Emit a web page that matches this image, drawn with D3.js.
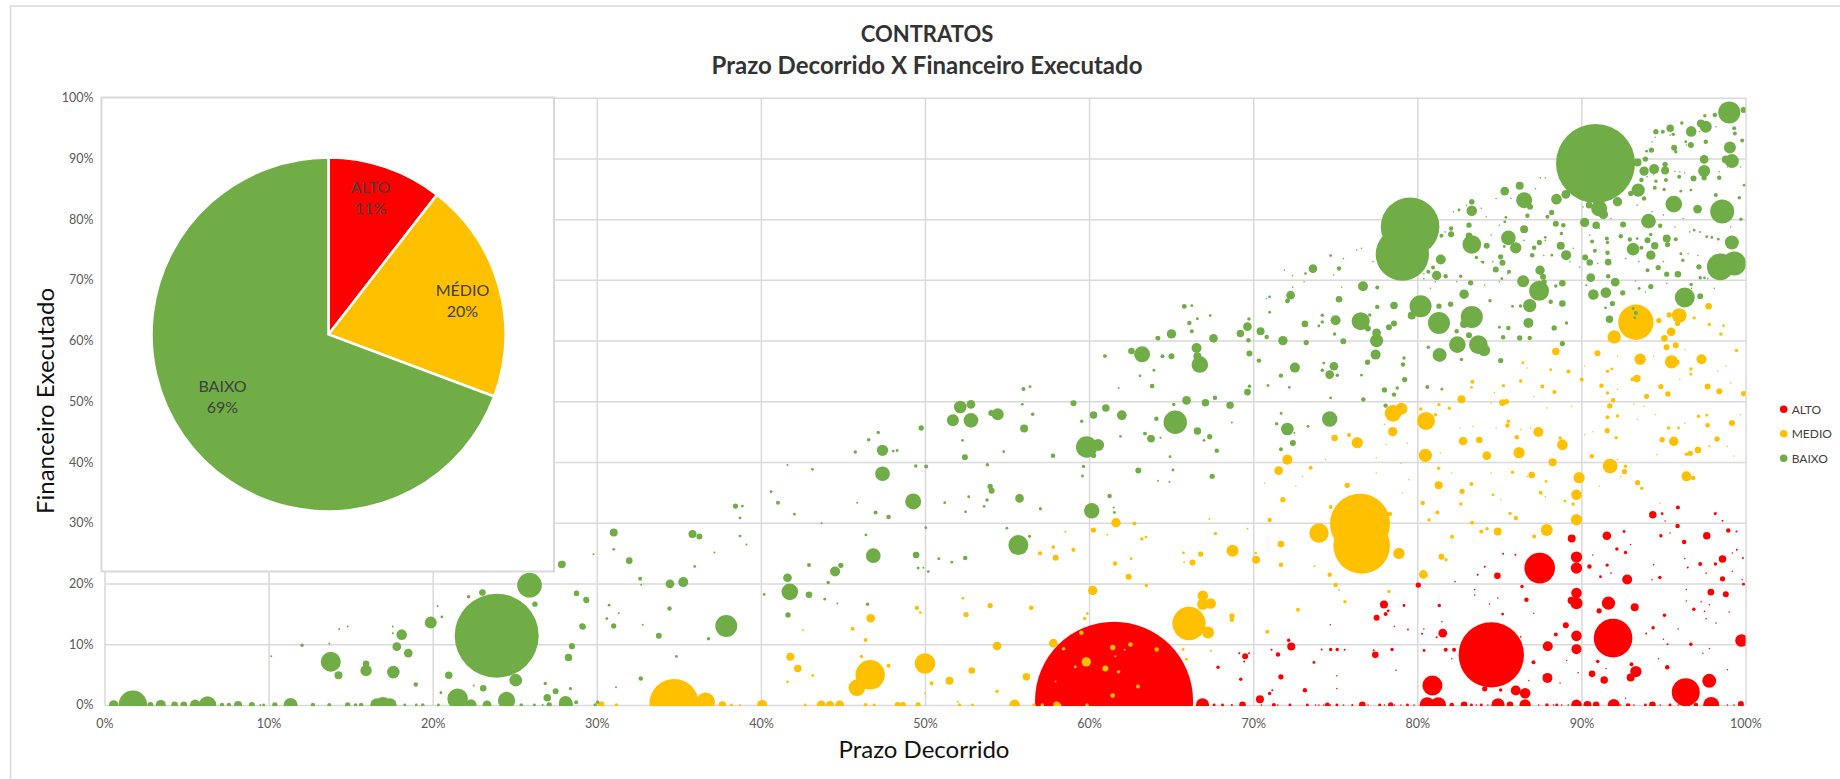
<!DOCTYPE html>
<html>
<head>
<meta charset="utf-8">
<script src="https://cdn.jsdelivr.net/npm/d3@7"></script>
<style>
html, body { margin: 0; padding: 0; background: #fff; }
text { font-family: Lato, "Noto Sans", sans-serif; }
</style>
</head>
<body>
<div id="chart"></div>
<script>
// [prazo %, financeiro %, valor do contrato]
var altoPontos = [
[61.52,0.7,6241],[84.51,8.24,1069],[91.93,10.99,373],[87.46,22.53,234],[80.92,3.19,100],[80.61,0,59],[81.28,0,59],
[96.36,2.09,196],[97.79,3.96,49],[97.91,0,64],[99.76,10.6,40],[89.7,11.37,28],[89.7,9.18,25],[89.7,16.76,36],[89.7,18.41,28],
[89.39,17.2,14],[89.7,24.34,32],[89.7,22.53,32],[89.41,27.42,16],[91.65,16.76,44],[91.08,15.49,7],[93.25,16.1,16],[92.79,20.66,25],
[91.55,27.86,19],[90.49,22.8,5],[91.16,21.1,2],[91.57,23.02,3],[92.69,25.11,3],[92.16,25.66,3],[92.6,28.56,2],[94.35,31.32,14],
[94.92,31.5,2],[95.88,32.53,4],[95.86,29.45,5],[94.84,27.86,3],[96.26,26.81,5],[97.64,27.86,14],[98.95,28.74,5],[98.6,24.01,14],
[97.24,23.19,4],[98.17,23.19,3],[98.6,20.77,7],[96.48,22.63,1],[94.78,20.99,3],[99.88,19.89,2],[97.89,18.57,11],[98.8,18.24,9],
[96.85,15.77,3],[95.06,14.78,3],[94.37,12.69,3],[93.95,11.76,1],[96.67,10,3],[95.25,10,1],[91,7.14,3],[90.65,5.11,11],[91.39,4.12,14],
[93.32,5.49,32],[93,4.51,16],[93.05,6.7,4],[95.23,6.21,5],[91.97,0,36],[90.37,0,16],[90.9,0,11],[94.33,0,11],[92.81,0,3],[96.47,0,7],
[96.98,0,5],[99.72,0.16,9],[89.7,0,28],[86.57,1.92,28],[86,2.36,25],[86.57,0,32],[84.92,0,44],[85.65,0,11],[82.85,0,11],[82.1,0,5],
[84.11,2.64,7],[85.08,2.47,3],[87.95,9.67,25],[87.93,4.45,25],[88.44,11.59,4],[89.05,13.13,9],[87.08,7.03,4],[81.55,11.81,19],
[81.18,11.15,1],[81.73,9.07,4],[82.24,9.07,4],[80.41,8.96,2],[80.29,11.7,1],[86.65,17.31,5],[86.38,19.51,3],[84.88,21.26,11],[83.68,21.43,1],
[84.11,22.75,1],[81.34,16.37,3],[85.2,14.95,2],[85.23,24.89,1],[85.98,24.73,1],[80.06,19.73,7],[77.97,16.54,16],[77.52,14.34,9],[78.07,14.95,4],
[78.23,15.49,2],[79.19,16.37,2],[79.43,12.42,1],[77.44,8.24,11],[78.46,9.12,3],[77.34,9,1],[72.32,9.62,16],[72.16,10.66,3],[71.51,8.3,5],
[74.17,9.12,1],[74.72,9.12,3],[75.12,9.12,3],[75.57,9.07,1],[71.12,9.07,1],[71.69,4.62,7],[73.15,2.42,5],[71,1.87,3],[71.16,2.42,1],
[70.41,0.93,16],[73.7,7,2],[76.65,0,11],[78.38,0,7],[74.52,0,6],[71.26,0,4],[72.24,0,2],[77.71,0,2],[76.04,0,1],[73.3,0,2],[75.1,0,2],[79.4,0,2],
[98.15,31.48,2],[98.6,30.33,1],[99.45,28.57,1],[99.47,25.55,1],[99.84,24.18,1],[66.91,0,44],[69.35,0,11],[69.51,8,9],[67.86,6.21,3],[69.24,4.23,3],
[69.15,8.5,1],[69.75,8.5,1],[69.45,7.14,1],[67.62,0,2],[68.13,0,2],[68.7,0,1],[83.3,0,2],[83.9,0,2],[87.9,0,3],[88.5,0,2],[92.9,0,2],[93.9,0,2],[95.4,0,2]
];
var altoMiudos = [
[95.1,30.3],[98.2,31.6],[96.4,19],[97.3,17],[97.8,16.5],[96.4,17.1],[97.5,15.4],[99,15.3],[98.2,13.5],[97.6,14.2],[95.9,12.5],[95,10.8],[90.7,24.7],[91.8,21.7],[93,26.4],[94.4,23.1],
[95.4,28.3],[96.3,24.1],[97.6,21.7],[99.2,22],[99.8,20.6],[99.2,25],[94.3,20.6],[97.4,8.5],[97.8,9.3],[94.7,7.6],[98.9,5.8],[92.7,1.1],[91.5,6],[89.8,5.3],[89.1,7.3],[88.7,3.6],[86.8,4],
[86.3,11.2],[87.1,15.1],[84.4,16.6],[84.9,17.6],[83.5,19],[83.5,18.1],[82.3,20.3],[80.4,12.5],[81.5,13.7],[82.1,7.6],[78.7,5.7],[78.6,12.9],[75.1,4.8],[75.1,2.7],[74.7,13.2],
[70.5,0],[71.5,0],[73.8,0],[74,0],[74.3,0],[74.7,0],[75.5,0],[77,0],[78,0],[78.6,0],[79,0],[79.8,0],[83.6,0],[84.3,0],[85,0],[87.4,0],[88.3,0],[88.8,0],[89.2,0],[92.4,0],[93.2,0],[94.8,0],[95.9,0],[97,0],[98.9,0],[99.3,0]
];
var medioPontos = [
[76.51,29.84,900],[76.61,26.26,800],[74.01,28.3,94],[78.88,24.95,32],[70.17,23.9,14],[71.69,26.48,11],[71.69,23.08,5],[71,30.44,5],
[74.72,32.58,4],[78.33,31.43,5],[73.74,22.86,1],[70.15,25,2],[74.66,21.43,5],[75.02,19.73,5],[75.59,16.98,3],[72.73,15.66,4],[70.86,12.03,4],[75.23,18.97,1],
[89.7,30.49,32],[87.89,28.79,36],[84.9,28.57,16],[83.9,28.57,4],[84.25,29,3],[82.12,27.69,4],[87.12,27.75,4],[81.47,24.4,9],[81.75,23.9,3],[80.37,21.48,19],
[78.27,18.68,3],[83.34,30,4],[86,30.77,5],[85.65,31.54,3],[81.22,31.7,4],[80.71,30.44,3],
[93.32,63.02,312],[92,60.6,44],[95.96,64.12,54],[95.86,62.8,7],[95.35,64.23,7],[94.72,63.3,7],[95.47,61.43,19],[95.06,60.39,11],[97.75,65.66,11],
[96.87,63.74,3],[97.79,62.64,3],[98.5,61.1,3],[98.66,62.47,2],[95.19,58.9,9],[95.75,59.23,9],[93.58,56.92,32],[95.49,56.49,44],[97.32,56.92,25],[90.98,57.91,9],
[88.44,58.19,14],[95.82,56.45,7],[89.21,54.89,4],[90.02,53.57,4],[93.38,53.74,14],[93.11,53.63,4],[91.22,52.58,5],[94.84,52.42,7],[95.27,51.21,7],[93.97,50.82,7],
[97.69,52.42,9],[98.4,51.65,9],[99.88,51.27,7],[96.67,55.33,3],[96.67,54.45,2],[91.59,54.95,3],[91.85,55.33,2],[99.45,58.35,3],[91.59,51.37,3],
[91.93,50.17,5],[91.73,49.23,7],[91.59,47.36,4],[92.2,47.58,3],[91.57,45.17,7],[92.12,44,3],[90.63,40.94,5],[91.75,39.34,54],[92.69,39.29,3],[92.62,38.41,7],
[93.42,36.59,7],[93.68,35.66,3],[94.92,43.68,7],[95.63,43.41,22],[95.31,45.6,3],[95.92,45.6,2],[97.14,47.53,3],[97.64,47.7,2],[97.69,46.04,5],[99.17,46.43,9],
[98.27,43.79,7],[97.1,41.98,11],[96.63,41.43,7],[96.4,41.27,3],[97.79,42.58,1],[96.4,37.64,25],[96.81,37.36,5],[89.86,37.42,32],[89.7,34.62,28],[86.97,37.86,11],
[87.85,36.8,2],[88.25,39.95,16],[87.52,34.95,4],[89.5,33.1,3],[89,33.57,2],[88.84,42.86,28],[88.7,43.96,3],[87.38,44.95,25],[86.2,41.54,32],[86.06,44.07,5],
[84.23,41.04,19],[83.78,43.63,11],[82.79,43.46,19],[80.49,41.1,44],[80.53,46.76,81],[81.12,47.8,3],[82.69,50.33,16],[81.95,48.85,3],[81.32,49.45,3],[80.21,48.74,3],
[85.19,49.78,11],[85.43,49.95,7],[85.55,46.71,3],[85.49,46,5],[87.62,52.42,4],[88.36,51.54,4],[86.3,53.35,3],[83.36,53.24,4],[83.3,52.3,2],[85.25,52.58,3],
[78.52,48.02,69],[79.03,48.79,36],[78.5,45,22],[76.34,43.19,32],[74.96,43.96,11],[75.84,44.45,4],[72.08,40.39,25],[71.55,38.57,19],[73.5,39.07,4],[75.73,36.16,7],
[71.81,33.79,7],[81.3,38.96,3],[81.3,36.16,16],[82.73,35.17,7],[83.3,36.37,4],[80.33,33.24,5],[82.65,33.1,3],[85.8,38.3,3],[84.62,34.6,2],[86.43,56.35,2],[88.13,55.2,2],
[66.09,13.41,278],[66.93,17.97,28],[66.93,16.59,32],[67.41,16.7,28],[67.25,11.92,36],[68.7,14.67,7],[68.7,14.01,5],[68.74,25.38,36],[70.18,23.9,14],[66.3,23.46,9],
[66.8,24.84,7],[65.75,25.05,2],[65.79,23.5,1],[67.7,28.24,3],[69.65,29,1],[67.33,30.6,1],[63.49,19.67,3],[60.22,18.85,22],[62.41,21.1,9],[61.58,23.3,5],[62.56,24.07,2],
[63.21,27.31,3],[63.47,27.64,2],[61.64,30,22],[62.76,29.89,4],[60.26,28.79,7],[61.1,28.02,1],[56.48,15.99,5],[57.82,10.16,19],[56.18,4.62,14],[55.46,0,28],[58.02,0,11],
[56.64,0,3],[57.15,0,3],[59.89,15.05,2],[59.73,14.23,3],[59.04,25.55,4],[57.82,25.99,3],[57.01,24.95,4],[57.96,24.23,9],[58.55,28.5,1],[65.73,9.12,2],[65.93,7.53,2],[67.42,8.9,1],
[59.83,7.09,22],[60.99,5.99,9],[61.44,9.45,7],[62.52,9.95,5],[59.53,11.87,5],[58.45,9.23,3],[61.8,5.44,3],[62.98,3.02,4],[61.44,1.54,5],[64.12,9.12,5],[59.16,6.26,2],
[62.17,9.1,1],[61.6,8,1],[57.96,3.85,1],[59.88,0,3],[58.22,0,2],
[34.71,0.2,610],[36.63,0.5,87],[37.65,0,14],[40.08,0,25],[43.68,0,19],[44.21,0,16],[44.8,0,19],[48.34,0,9],[48.65,0,9],[49.58,0,7],[30.26,0,11],[31.19,0,3],[38.21,0,2],
[38.73,0,1],[42.7,0,2],[46.38,0,4],[46.9,0,2],[52.1,0,3],[52.9,0,2],[46.66,4.96,216],[45.85,2.81,69],[50,6.83,106],[51.49,3.97,16],[50.4,3.58,4],[52.85,5.67,11],[54.39,9.7,19],
[53.97,16.36,7],[52.5,14.88,7],[49.51,15.98,5],[49.72,15.21,2],[46.69,14.27,19],[45.59,12.56,4],[46.38,10.69,4],[47.78,6.45,4],[41.79,7.93,16],[42.25,6.01,14],[43.16,4.85,2],
[41.62,3.8,2],[42.56,12.3,1],[46.13,7.99,3],[52.31,17.58,2],[54.39,2.26,3],[56.46,15.98,4],[57,24.96,3],[57.8,25.95,2],[59.06,25.51,3],[50,1.9,1],[52,0.5,1]
];
var medioMiudos = [
[92.2,57.4],[94.4,57.4],[96.3,58.5],[98.3,55],[99.1,53],[98.8,55.8],[96,53.6],[92.2,52],[90.2,55.8],[86.7,55.5],[84.7,51.4],[87.1,50.8],[84.5,49.7],[87.9,48.9],[89.4,49.2],[82.6,45.6],
[83.4,45.9],[84.8,45.6],[86.3,45.3],[86.9,45.6],[90.2,44.5],[90.7,45],[93.4,47],[94.5,47.8],[96.3,46.4],[99.7,47.8],[93.8,49.2],[93.2,49.5],[92.2,40.4],[94.6,41.2],[98.9,42.6],[99.3,41],
[79.4,43.1],[78,46.2],[78.1,42.9],[77.5,40.7],[79,39.8],[74.4,40.4],[70.7,36.5],[73,37.6],[72.6,36],[77.5,38.2],[79.1,34.9],[79.5,37.1],[81.4,41.5],[82.1,38.2],[84.5,38.2],[86.7,37.6],
[87.8,34.3],[85.1,33.8],[91.1,36],[92.4,37.6],[94.8,33.2]
];
var baixoPontos = [
[23.9,11.4,1764],[90.86,89.18,1560],[79.56,78.74,860],[79.09,74.23,711],[25.9,19.72,152],[98.46,72.14,178],[99.31,72.69,144],[98.58,81.27,144],[65.25,46.54,137],
[99.01,97.58,121],[81.32,62.91,121],[83.32,63.9,121],[80.2,65.66,121],[37.89,13,121],[59.85,42.47,114],[21.52,1,106],[87.42,68.19,100],[96.3,67.1,100],[55.69,26.32,100],[13.79,7.11,100],
[83.32,75.83,87],[83.72,59.34,87],[76.55,63.19,81],[24.5,0.72,75],[6.28,0,75],[1.73,0,204],[95.63,82.47,69],[82.44,59.34,69],[41.76,18.62,69],[66.75,56.05,69],
[86.51,83.13,64],[91.08,81.76,64],[63.23,57.74,64],[49.28,33.51,64],[16.97,0,64],[60.16,31.98,59],[74.66,47.09,59],[94.09,79.67,54],[85.55,76.92,54],[47.41,38.07,54],[52.8,46.86,54],[46.85,24.57,54],
[99.17,89.56,49],[99.17,76.15,49],[81.36,57.64,49],[11.34,0,49],[28.12,0.17,49],[93.46,84.78,44],[86.85,65.77,44],[77.52,60,44],[16.6,0,44],[17.4,0,44],
[93.15,75.06,40],[72.08,45.44,40],[52.15,49.06,40],[28.09,0.44,40],[25.06,4.08,40],[17.6,5.4,40],
[97.58,95.2,36],[99.05,91.81,36],[97.48,87.91,36],[86.45,69.78,36],[84.07,58.41,36],[60.55,42.8,36],[51.7,46.86,36],[54.43,47.85,36],[19.88,13.55,36],
[86,75.28,32],[47.41,41.92,32],[15.94,5.67,32],[22.33,0,32],[96.69,94.45,28],[88.48,83.29,28],[90.73,67.58,28],[91.49,67.9,28],[83.32,81.37,28],[5.53,0,28],[18.11,11.57,28],
[94.43,88.24,25],[81.43,73.35,25],[89.07,74.07,25],[76.69,68.95,25],[75.02,63.35,25],[72.54,55.55,25],[77.46,57.69,25],[86.77,62.91,25],[44.52,21.98,25],[35.27,20.22,25],[66.55,58.79,25],[3.43,0,25],
[93.82,87.91,22],[92.2,82.86,22],[87.48,71.59,22],[91.34,80.77,22],[90.2,79.45,22],[94.23,74.07,22],[81.18,70.72,22],[82.85,67.64,22],[71.81,60,22],[61.99,47.74,22],[65.02,61.1,22],[62,47.69,22],[0.56,0,22],
[97.48,89.84,19],[97.08,81.65,19],[89.05,84.07,19],[85.33,84.62,19],[73.64,71.86,19],[72.28,67.47,19],[92.06,69.62,19],[90.57,70.38,19],[74.92,55.77,19],[74.66,54.4,19],[77.52,61.27,19],[52.8,49.5,19],
[55.76,34,19],[41.62,20.94,19],[34.46,19.94,19],[23.31,0,19],[17.81,9.59,19],[18.51,8.54,19],[69.65,62.3,19],[67.58,60.38,19],[65.94,50.14,19],
[97.28,95.77,16],[98.8,89.84,16],[93.42,89.34,16],[95.1,88.02,16],[99.31,72.1,4],[86.24,85.5,16],[86.51,78.35,16],[88.74,75.6,16],[95.2,76.81,16],[70.45,61.54,16],[79.66,64.12,16],[82.85,62.75,16],
[56.04,45.54,16],[31.03,28.4,16],[35.83,28.13,16],[14.26,4.9,16],[8.14,0,16],
[95.41,94.95,14],[92.2,82.9,5],[90.9,79.01,14],[78.58,65.77,14],[91.71,63.52,14],[94.47,75.6,14],[61.02,48.9,14],[60.27,47.74,14],[28.27,7.82,14],[27.86,23.14,14],[20.98,4.9,14],[26.98,1.16,14],[69.22,61.15,14],[67.09,49.75,14],[68.59,49.37,14],[66.6,45.11,14],[63.78,43.85,14],
[92.54,79.12,9],[88.44,79.23,9],[84.23,75.6,9],[84.78,71.7,9],[85.19,72.8,9],[87.66,70.5,9],[96.67,92.2,9],[95.65,91.76,9],[83.15,77.25,11],[92.4,77.2,5],[90.47,82.3,11],[91.63,72.91,11],[90.51,72.86,11],[88.84,69.45,11],[95.88,70.93,11],[88.84,66.1,11],[86.85,60.44,5],
[73.15,62.75,11],[75.23,66.81,11],[78,51.87,7],[78.27,62.2,9],[78.58,62.8,9],[76.99,61.98,9],[75.49,59.89,9],[82.06,77.53,9],[94.03,76.54,9],[83.15,60.88,9],[53.97,35.98,7],[54.06,35.27,9],[52.43,40.77,9],[59.05,49.67,9],[54.04,48.07,9],
[42.93,18.13,11],[49.46,24.68,11],[31.98,23.75,11],[27.9,23.2,11],[63.75,43.9,11],[62.58,58.29,11],[23.03,18.51,11],[23.08,2.75,11],[15.94,6.78,11],[4.27,0,11],[4.83,0,11],[28.28,7.77,11],[69.65,51.51,11],
[33.78,11.4,9],[29.11,12.95,9],[29.35,17.3,9],[28.48,9.7,9],[29.15,12.89,9],[27.49,2.26,9],[63,38.62,9],[65.02,57.42,9],[2.8,0,9],[8.98,0,9],
[94.54,94.4,7],[94.27,91.37,7],[93.9,89.9,7],[95.1,89,7],[97.48,86.8,7],[96.83,86.7,9],[93.01,84.23,7],[88.19,81.1,7],[83.32,82.86,7],[83.15,79.01,7],[85.08,73.79,7],[83.25,69.51,7],[87.44,76.15,7],[90.23,73.68,9],[94.68,72.03,7],[95.2,70.93,7],[97.16,72.14,7],[92.52,67.86,7],[94.23,68.9,7],[87.73,69.67,7],[97.24,67.31,9],[95.25,75.82,7],[76.97,56.43,7],[74.21,63.08,3],[73.23,59.67,7],[88.34,62.09,7],[88.84,59.51,7],[86.24,60.44,7],[85.08,56.71,7],[81.32,65.66,7],[82.03,65.99,7],[83.15,60.88,5],[91.89,66.1,7],[82.4,61.54,5],[60.27,41.09,7],[49.77,45.6,7],[38.45,32.74,7],[36.25,27.74,9],[41.65,14.82,7],[31.03,13,7],[28.76,18.4,7],[28.77,18.35,7],[26.23,16.58,7],[29.38,17.19,7],[28.49,9.59,7],[10.38,0,7],[27.1,0,7],[14.82,0,7],[67.5,37.64,7],
[99.88,97.97,9],[98.13,97.14,5],[97.52,97.03,3],[96.12,95.83,3],[94.96,94.4,4],[95.59,93.96,3],[99.31,94.95,4],[99.35,94.12,4],[97.58,92.75,5],[96.36,92.75,2],[99.8,92.97,4],[95.75,91.1,3],[93.97,91.2,2],[95.96,86.98,4],[98.4,86.8,5],[95.15,86.43,4],[94.54,86.26,3],[93.66,86.43,5],[93.82,83.41,5],[99.92,85.6,2],[95.04,84.89,3],[94.47,85.17,4],[96.06,84.6,2],[96.67,84.78,2],[98.19,83.96,4],[99.62,83.52,3],[99.72,80,3],[94.8,78.9,5],
[86.87,82.03,9],[83.32,82.86,7],[82.54,81.5,2],[88.9,79,5],[86.71,80.55,5],[87.93,80.39,4],[85.33,79.56,2],[85.4,80.3,2],[82.06,78.46,5],[81.47,77.25,4],[85.3,75.5,2],[80.67,71.32,4],[80.96,72.03,4],[81.73,70.6,5],[82.64,70.6,3],[85.59,71.32,4],[85.15,70.2,2],[83.6,73.7,3],[84,72.9,2],[87,74.07,5],[87.12,75.28,5],[87.8,77,2],[88.78,77.63,3],[88.2,74.07,2],[91.59,74.45,5],[90.82,74.78,4],[90.65,76.32,4],[91.55,76.81,4],[91.59,76.15,3],[92.95,76.65,5],[93.4,76.8,2],[94.23,77.47,3],[93.66,75.28,4],[95.75,76.7,4],[96.06,74.3,2],[94.03,71.59,4],[96.18,73.24,3],[97.24,70.33,3],[97.5,70.33,2],[96.87,78.18,2],[97.24,77.9,1],[97.64,77.1,2],[97.95,76.98,2],[98.34,76.7,2],[88.44,69,3],[91.63,70.6,5],[96.69,69.23,3],[93.52,68.6,2],[90.3,69.1,1],[75.23,71.86,5],[74.72,74,2],[73.19,71.03,2],[77.56,68.74,4],[72.1,66.6,5],[71,67.2,2],
[72.08,66.5,5],[71,64.67,2],[70.82,60.6,5],[74.21,64.18,3],[74,62.4,2],[77.56,65.55,5],[77.1,64.2,3],[74.96,61.1,3],[70.35,56.7,5],[71.69,54.23,5],[74.21,55.1,3],[74.3,56.3,2],[79.19,57.14,3],[79.13,56.05,5],[79.23,53.57,7],[75.13,54.3,3],[78.78,52.2,3],[78.58,51.1,5],[76.71,50.28,5],[78.07,49.29,5],[70.9,52.6,2],[72.2,52.3,2],[76.6,54.3,2],[74.72,50.55,2],
[80.67,58.9,3],[80.61,52.36,4],[81.5,52,2],[82.69,56.87,3],[86.29,65.7,3],[89.09,62.91,3],[88.13,66.38,5],[85.55,62.09,5],[85,62.2,2],[85.23,60.55,5],[85.8,65.66,2],[84.43,66.55,3],[93.32,64.56,4],[93.15,65.28,2],[93.25,63.74,2],[91.47,65.4,2],[72.42,43.13,9],[71.69,42.09,4],[71.43,46.3,3],[71.7,48,2],[73.34,45.88,2],[72.5,44.8,1],
[60.95,57.47,3],[63.84,52.52,5],[64.17,60.43,5],[63.4,44.72,3],[61.25,34.39,5],[59.66,39.28,3],[53.8,39.56,3],[53.78,33.73,3],[52.66,34.28,2],[52.29,43.57,2],[56,52.03,4],[56.4,52.41,2],[55.93,49.5,2],[57.8,41.04,5],[54.8,41.7,2],[57.03,32.3,2],[59.6,37.7,2],[59.55,46.7,3],[56.56,47.85,3],[63.1,54.2,2],[61.8,52.2,1],
[47.15,44.88,3],[46.57,43.68,3],[45.75,41.64,3],[48.06,41.8,2],[48.3,41.9,2],[49.44,39.34,3],[50.07,39.27,4],[46.99,31.7,4],[47.78,30.93,5],[45.87,33.3,1],[43.14,38.79,2],[41.62,39.5,1],[41.04,33.29,4],[40.62,35.1,2],[42.04,31.41,2],[38.73,27.8,2],[38.87,32.75,2],[38.73,30.8,2],[39.12,26.4,1],[43.7,29.9,1],[46.4,28,2],[50.05,29.17,2],[54.99,29.1,2],[56.37,27.8,2],[51.2,33.3,2],[52.47,31.8,2],[53.6,32.7,2],
[41.76,18.6,5],[44.87,22.98,7],[44.1,20.17,3],[42.93,23.03,4],[49.58,22.53,2],[49.9,22.6,1],[52.45,24.19,5],[50.84,24.07,2],[51.63,23.5,2],[50.2,21.95,2],[46.5,16.58,3],[43.89,17.41,2],[44.66,16.7,1],[40.2,18.2,2],[31.03,25.62,2],[32.64,20.77,4],[35.97,22.81,2],[37.17,25.1,1],[32.7,19.8,1],[34.43,15.87,5],[36.81,10.91,3],[30.61,14.21,2],[30.75,16.42,2],[31.33,15.1,1],[32.8,13.2,1],[29.8,24.8,1],[34.85,7.99,2],[32.68,4.35,5],[31.17,2.9,1],[28.39,2.7,2],[30.05,0.44,3],[28.74,0.44,4],
[18.97,3.36,5],[12.04,9.81,3],[22.19,17.8,3],[20.56,14.49,2],[20.3,16.3,1],[13.7,10.1,1],[14.3,12.5,1],[14.82,12.9,1],[17.57,12.9,1],[17.57,11.8,1],[10.16,8,1],[26.86,3.53,3],[28.4,2.64,2],[22.2,7.5,2],[21.5,12.5,1],[22.5,3.2,1],[20.5,2.0,2],
[7.16,0,5],[7.58,0,5],[12.7,0,5],[13.7,0,4],[15.64,0,5],[15.3,0,3],[19.4,0,3],[20.35,0,2],[9.7,0,2],[9.5,0,1],[18.3,0,2],[25.4,0,3],[26.2,0,2],[26.7,0,1],[19,0,2],[29.9,0,3],
[65.8,65.63,6],[66.26,65.75,2],[66.11,62.9,5],[66.26,61.53,4],[67.38,64.11,2],[64.21,60.38,5],[64.47,57.42,4],[66.6,57.4,16],[69.74,63.56,3],[69.71,60.05,5],[69.77,57.86,9],[69.77,52.49,3],[67.67,50.57,5],[65.16,49.48,3],[63.95,55.12,2],[63.84,52.49,4],[60.99,57.42,2],[66.6,63.6,2],
[64.1,47.14,5],[67.35,44.18,7],[63.41,44.67,3],[64.35,44,1],[67.78,41.87,5],[64.93,40.88,2],[67,43.57,2],[61.91,44.23,2],[65.11,38.68,2],[64.9,36.7,1],[64.2,36.9,1],[61.5,32.5,1],[57.03,32.25,2],[61.54,31.7,2],[56.38,27.75,2],[68.7,46.5,1]
];
var baixoMiudos = [
[94.5,93.5],[95.4,93.8],[96.4,92.2],[97.2,94.4],[98.2,95.2],[94.3,92.7],[94,91.2],[95.7,87.9],[96,87.8],[96.3,87.6],[98.9,88.6],[99.7,88.6],[98.4,87.8],[94.4,87.3],[94,87],[93.4,82.3],[94.3,81.2],
[95,80.7],[96.2,80.1],[98.2,80.7],[99.1,78.7],[95.7,78.7],[96.6,77.9],[91.8,80.1],[91.1,78.5],[90.1,82],[90.5,77.4],[90.2,73.5],[89.9,72.1],[91,72.7],[92.7,73.5],[93.5,73],[95,73],[96.5,74.3],
[97.1,74],[97.7,70.2],[93.3,69.8],[93.5,68.5],[93.9,68],[95.2,69.4],[96.7,68.6],[98.1,68.6],[87.5,86.8],[87.8,86.8],[87.2,85],[84.8,83.4],[85.7,83.4],[83.9,81.8],[84.2,80.4],[85,79],[84.5,77.4],
[83,82.3],[82.2,81.2],[81.7,77.9],[80.4,70.2],[80.4,71],[80.8,68.6],[81.1,69.7],[82.4,69.7],[84.1,69.1],[85,69.7],[85.5,71],[86.5,76.5],[87.8,76.5],[88.2,74],[89.3,73],[89.5,75.2],[87.7,74],[84.6,73],
[83.9,73],[76.6,75.2],[76.3,74.9],[75.5,73.5],[74.9,70.8],[75.4,68.8],[73.1,69.7],[72.4,70.7],[71.9,71.6],[72.4,68.8],[70.8,66.9],[77.3,73]
];

var pieCategorias = ["ALTO", "MÉDIO", "BAIXO"];
var pieValores = [10.5, 20.2, 69.3];

var legendaNomes = ["ALTO", "MEDIO", "BAIXO"];
var cores = ["#ff0000", "#ffc000", "#70ad47"];
var eixoTicks = [0, 10, 20, 30, 40, 50, 60, 70, 80, 90, 100];

var width = 1840;
var height = 779;
var plot = {left: 104.5, right: 1745.5, top: 97.7, bottom: 704.9};

var svg = d3.select("#chart").append("svg")
	.attr("width", width)
	.attr("height", height)
	.style("display", "block");

// moldura do grafico
svg.append("path")
	.attr("d", d3.line()([[10.5, height], [10.5, 6], [width, 6]]))
	.attr("fill", "none")
	.attr("stroke", "#d9d9d9")
	.attr("stroke-width", 1.5);

var x_scale = d3.scaleLinear().domain([0, 100]).range([plot.left, plot.right]);
var y_scale = d3.scaleLinear().domain([0, 100]).range([plot.bottom, plot.top]);
var r_scale = d3.scaleSqrt().domain([0, 10000]).range([0, 100]);
var fmt = function(d) { return d + "%"; };

var xAxis = d3.axisBottom(x_scale).tickValues(eixoTicks).tickFormat(fmt)
	.tickSize(-(plot.bottom - plot.top)).tickPadding(14);
var yAxis = d3.axisLeft(y_scale).tickValues(eixoTicks).tickFormat(fmt)
	.tickSize(-(plot.right - plot.left)).tickPadding(11);

var gx = svg.append("g").attr("transform", "translate(0," + plot.bottom + ")").call(xAxis);
var gy = svg.append("g").attr("transform", "translate(" + plot.left + ",0)").call(yAxis);
gx.select(".domain").remove();
gy.select(".domain").remove();
svg.selectAll(".tick line").attr("stroke", "#d9d9d9").attr("stroke-width", 1.5);
svg.selectAll(".tick text")
	.attr("fill", "#595959")
	.style("font-size", "12.5px");

svg.append("clipPath").attr("id", "plot_clip")
	.append("rect")
	.attr("x", plot.left)
	.attr("y", plot.top - 20)
	.attr("width", plot.right - plot.left)
	.attr("height", plot.bottom - plot.top + 21);

function comMiudos(miudos) {
	return miudos.map(function(d) { return [d[0], d[1], 0.6]; });
}
var series = [
	altoPontos.concat(comMiudos(altoMiudos)),
	medioPontos.concat(comMiudos(medioMiudos)),
	baixoPontos.concat(comMiudos(baixoMiudos))
];
var g_bubbles = svg.append("g").attr("clip-path", "url(#plot_clip)");
series.forEach(function(pontos, i) {
	g_bubbles.append("g").selectAll("circle")
		.data(pontos)
		.enter()
		.append("circle")
		.attr("cx", function(d) { return x_scale(d[0]); })
		.attr("cy", function(d) { return y_scale(d[1]); })
		.attr("r", function(d) { return r_scale(d[2]); })
		.attr("fill", cores[i]);
});

// pizza sobre o grafico
var box = {x: 101.5, y: 97.5, w: 452.5, h: 474};
svg.append("rect")
	.attr("x", box.x)
	.attr("y", box.y)
	.attr("width", box.w)
	.attr("height", box.h)
	.attr("fill", "#fff")
	.attr("stroke", "#d9d9d9")
	.attr("stroke-width", 2);

var pieR = 177;
var g_pie = svg.append("g").attr("transform", "translate(328.5,334.5)");
var arcs = d3.pie().sort(null)(pieValores);
var arc = d3.arc().innerRadius(0).outerRadius(pieR);
g_pie.selectAll("path")
	.data(arcs)
	.enter()
	.append("path")
	.attr("d", arc)
	.attr("fill", function(d, i) { return cores[i]; })
	.attr("stroke", "#fff")
	.attr("stroke-width", 2.5);

// rotulos da pizza ficam fora do centroide, como no original
var rotuloPos = [[42, -137], [134, -34], [-106, 62]];
g_pie.selectAll("text.pie_label")
	.data(arcs)
	.enter()
	.append("text")
	.attr("class", "pie_label")
	.attr("transform", function(d, i) {
		return "translate(" + rotuloPos[i][0] + "," + rotuloPos[i][1] + ")";
	})
	.attr("text-anchor", "middle")
	.attr("fill", "#404040")
	.style("font-size", "16px")
	.each(function(d, i) {
		d3.select(this).append("tspan").attr("x", 0).attr("y", -5).text(pieCategorias[i]);
		d3.select(this).append("tspan").attr("x", 0).attr("y", 16).text(Math.round(pieValores[i]) + "%");
	});

// titulos
svg.append("text").attr("x", 927).attr("y", 42).attr("text-anchor", "middle")
	.attr("fill", "#333").style("font-size", "22px").style("font-weight", "bold").text("CONTRATOS");
svg.append("text").attr("x", 927).attr("y", 74).attr("text-anchor", "middle")
	.attr("fill", "#333").style("font-size", "24px").style("font-weight", "bold").text("Prazo Decorrido X Financeiro Executado");

svg.append("text").attr("x", 924).attr("y", 758).attr("text-anchor", "middle")
	.attr("fill", "#111").style("font-size", "24px").text("Prazo Decorrido");
svg.append("text").attr("transform", "translate(54,401) rotate(-90)").attr("text-anchor", "middle")
	.attr("fill", "#111").style("font-size", "24px").text("Financeiro Executado");

// legenda
var legenda = svg.append("g").selectAll("g")
	.data(legendaNomes)
	.enter()
	.append("g")
	.attr("transform", function(d, i) { return "translate(1783.7," + (409.3 + i * 24.5) + ")"; });
legenda.append("circle").attr("r", 3.8).attr("fill", function(d, i) { return cores[i]; });
legenda.append("text").attr("x", 8).attr("y", 4.5).attr("fill", "#404040")
	.style("font-size", "12px").text(function(d) { return d; });
</script>
</body>
</html>
